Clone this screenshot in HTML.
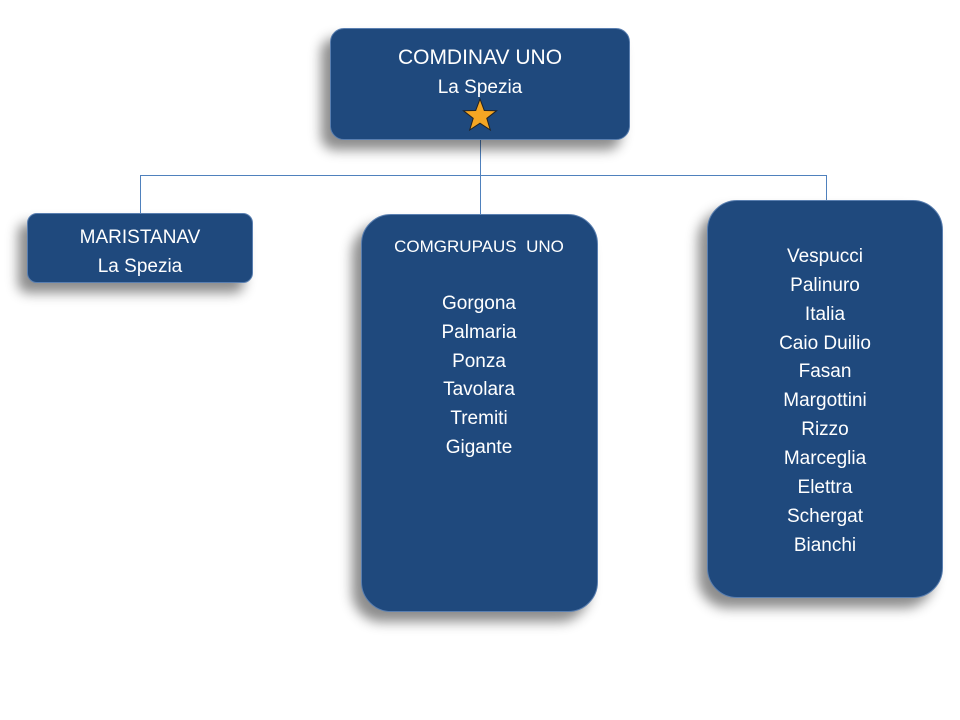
<!DOCTYPE html>
<html><head><meta charset="utf-8"><style>
body{margin:0;width:960px;height:720px;background:#fff;position:relative;overflow:hidden;font-family:"Liberation Sans",sans-serif}
.b{position:absolute;background:#1F497D;border:1px solid #5a7fb0;box-shadow:-9px 10px 12px rgba(0,0,0,0.45);box-sizing:border-box}
.t{position:absolute;color:#fff;text-align:center;white-space:nowrap;transform:translate(-50%,-50%);font-size:19px;margin-top:2px}
.l{position:absolute;background:#4F81BD}
</style></head><body>
<div class="l" style="left:140px;top:175px;width:687px;height:1px"></div>
<div class="l" style="left:480px;top:140px;width:1px;height:74px"></div>
<div class="l" style="left:140px;top:175px;width:1px;height:38px"></div>
<div class="l" style="left:826px;top:175px;width:1px;height:26px"></div>
<div class="b" style="left:330px;top:28px;width:300px;height:112px;border-radius:14px"></div>
<div class="b" style="left:27px;top:213px;width:226px;height:70px;border-radius:10px"></div>
<div class="b" style="left:361px;top:214px;width:237px;height:398px;border-radius:30px"></div>
<div class="b" style="left:707px;top:200px;width:236px;height:398px;border-radius:30px"></div>
<div class="t" style="left:480px;top:56px;font-size:21px">COMDINAV UNO</div>
<div class="t" style="left:480px;top:86px">La Spezia</div>
<svg style="position:absolute;left:462px;top:98px" width="36" height="34" viewBox="0 0 36 34"><polygon points="18,1 22.3,12.5 34.5,12.8 24.8,20.3 28.3,32 18,25.2 7.7,32 11.2,20.3 1.5,12.8 13.7,12.5" fill="#F5A623" stroke="#222" stroke-width="1"/></svg>
<div class="t" style="left:140px;top:236px">MARISTANAV</div>
<div class="t" style="left:140px;top:265px">La Spezia</div>
<div class="t" style="left:479px;top:245px;font-size:17px">COMGRUPAUS&nbsp; UNO</div>
<div class="t" style="left:479px;top:302px">Gorgona</div>
<div class="t" style="left:479px;top:331px">Palmaria</div>
<div class="t" style="left:479px;top:360px">Ponza</div>
<div class="t" style="left:479px;top:388px">Tavolara</div>
<div class="t" style="left:479px;top:417px">Tremiti</div>
<div class="t" style="left:479px;top:446px">Gigante</div>
<div class="t" style="left:825px;top:255px">Vespucci</div>
<div class="t" style="left:825px;top:284px">Palinuro</div>
<div class="t" style="left:825px;top:313px">Italia</div>
<div class="t" style="left:825px;top:342px">Caio Duilio</div>
<div class="t" style="left:825px;top:370px">Fasan</div>
<div class="t" style="left:825px;top:399px">Margottini</div>
<div class="t" style="left:825px;top:428px">Rizzo</div>
<div class="t" style="left:825px;top:457px">Marceglia</div>
<div class="t" style="left:825px;top:486px">Elettra</div>
<div class="t" style="left:825px;top:515px">Schergat</div>
<div class="t" style="left:825px;top:544px">Bianchi</div>
</body></html>
